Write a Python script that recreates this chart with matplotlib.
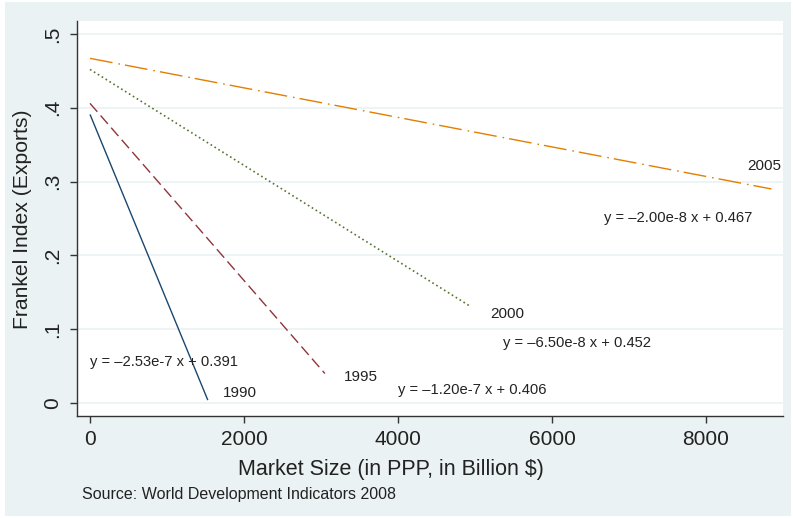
import matplotlib
matplotlib.use("Agg")
import matplotlib.pyplot as plt
from matplotlib.patches import Rectangle
import numpy as np

plt.rcParams['font.family'] = ['Liberation Sans', 'DejaVu Sans']

# Data: fitted lines per year (slope in per-million units as shown, intercept), x range in billion $
years = ["1990", "1995", "2000", "2005"]
slopes = [-2.53e-7, -1.20e-7, -6.50e-8, -2.00e-8]
intercepts = [0.391, 0.406, 0.452, 0.467]
x_max = [1530, 3050, 4950, 8850]
eq_labels = ["y = \u20132.53e-7 x + 0.391", "y = \u20131.20e-7 x + 0.406",
             "y = \u20136.50e-8 x + 0.452", "y = \u20132.00e-8 x + 0.467"]
year_label_pos = [(1727, 0.0136), (3299, 0.035), (5195, 0.1206), (8532, 0.321)]
eq_label_pos = [(0, 0.0556), (4000, 0.0176), (5364, 0.0813), (6675, 0.2507)]

colors = ["#1a476f", "#90353b", "#55752f", "#e37e00"]
widths = [1.0, 1.0, 1.2, 1.0]
dashes = [None, (8, 3.6), (1.0, 1.75), (16.5, 4.3, 1.2, 3.6)]

xticks = [0, 2000, 4000, 6000, 8000]
yticks = [0, 0.1, 0.2, 0.3, 0.4, 0.5]
yticklabels = ["0", ".1", ".2", ".3", ".4", ".5"]

bg = "#eaf2f3"
fig = plt.figure(figsize=(7.93, 5.18), dpi=100)
fig.patch.set_facecolor("white")
fig.patches.append(Rectangle((5/793, 2/518), 786/793, 514/518, transform=fig.transFigure,
                             facecolor=bg, edgecolor="none", zorder=-10))

ax = fig.add_axes([77/793, 1 - 416/518, 706/793, 395/518])
ax.set_facecolor("white")
ax.set_xlim(-169, 9000)
ax.set_ylim(-0.0176, 0.5176)

for yv in yticks:
    ax.axhline(yv, color=bg, lw=1.2, zorder=0)

for i in range(len(years)):
    xs = np.array([0, x_max[i]])
    ys = intercepts[i] + slopes[i] * 1000 * xs
    line, = ax.plot(xs, ys, color=colors[i], lw=widths[i], solid_capstyle='butt')
    if dashes[i] is not None:
        line.set_dashes(dashes[i])
    ax.text(year_label_pos[i][0], year_label_pos[i][1], years[i], fontsize=11,
            color="#222222", ha="left", va="center")
    ax.text(eq_label_pos[i][0], eq_label_pos[i][1], eq_labels[i], fontsize=10.6,
            color="#222222", ha="left", va="center")

for s in ["top", "right"]:
    ax.spines[s].set_visible(False)
for s in ["left", "bottom"]:
    ax.spines[s].set_color("#333333")
    ax.spines[s].set_linewidth(1.0)

ax.set_xticks(xticks)
ax.set_xticklabels([str(v) for v in xticks])
ax.set_yticks(yticks)
ax.set_yticklabels(yticklabels, rotation=90, va="center")
ax.tick_params(axis="both", length=5, width=1.0, color="#333333", labelsize=15,
               labelcolor="#222222")
ax.tick_params(axis="x", pad=5)
ax.tick_params(axis="y", pad=6)

fig.text(0.493, 1 - 470/518, "Market Size (in PPP, in Billion $)", fontsize=15.5,
         color="#222222", ha="center", va="center")
fig.text(23/793, 1 - 219/518, "Frankel Index (Exports)", fontsize=15.2, rotation=90,
         color="#222222", ha="center", va="center")
fig.text(82/793, 1 - 495/518, "Source: World Development Indicators 2008", fontsize=11.5,
         color="#222222", ha="left", va="center")

fig.savefig("out.png", dpi=100, facecolor=fig.get_facecolor())
